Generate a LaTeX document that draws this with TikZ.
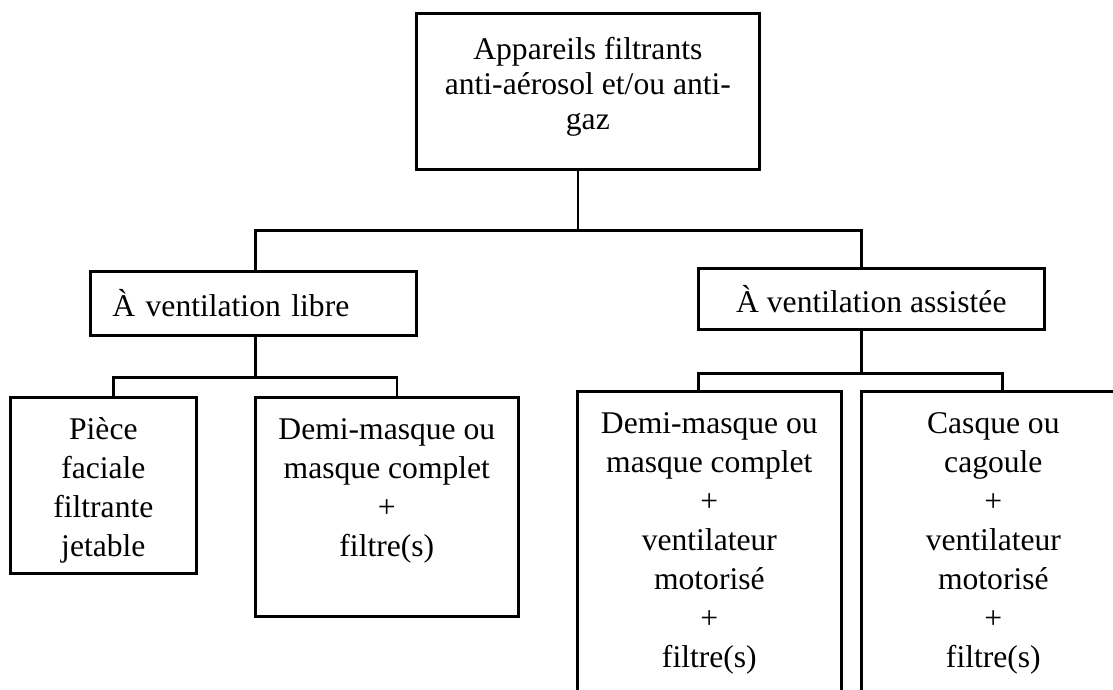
\documentclass[tikz,border=0pt]{standalone}
\usepackage{fontspec}
\setmainfont{Liberation Serif}

% text of a tall box: starts at the top, centred
\newcommand{\leafbox}[3]{\parbox[c][#2][t]{#1}{\centering\rule{0pt}{42pt}#3}}

\begin{document}
\begin{tikzpicture}[
    x=1pt, y=-1pt,
    every node/.style={font=\fontsize{31.6}{39}\selectfont},
    box/.style={draw, line width=2.7pt, inner sep=0pt, anchor=north west},
    link/.style={line width=2.6pt}
]
    \useasboundingbox (0,0) rectangle (1113,689);
    \clip (0,0) rectangle (1113,689);

    \node[box] (app) at (415,12)
        {\parbox[c][156pt][t]{343pt}{\centering\fontsize{31.6}{35}\selectfont
         \rule{0pt}{46pt}Appareils filtrants\\anti-aérosol et/ou anti-\\gaz}};

    \node[box, minimum width=326, minimum height=64, text width=282,
          inner xsep=22, align=left] (libre) at (89,270) {À ventilation libre};
    \node[box, minimum width=346, minimum height=61] (assist) at (697,267)
        {À ventilation assistée};

    \node[box] (piece) at (9,396)
        {\leafbox{186pt}{176pt}{Pièce\\faciale\\filtrante\\jetable}};
    \node[box] (demi) at (254,396)
        {\leafbox{263pt}{219pt}{Demi-masque ou\\masque complet\\+\\filtre(s)}};
    \node[box] (demiv) at (576,390)
        {\leafbox{264pt}{330pt}{Demi-masque ou\\masque complet\\+\\ventilateur\\motorisé\\+\\filtre(s)}};
    \node[box] (casque) at (860,390)
        {\leafbox{264pt}{330pt}{Casque ou\\cagoule\\+\\ventilateur\\motorisé\\+\\filtre(s)}};

    \draw[link] ([xshift=-10pt]app.south) -- ++(0,60) coordinate (j0);
    \draw[link] (j0) -| ([xshift=2pt]libre.north);
    \draw[link] (j0) -| ([xshift=-10pt]assist.north);

    \draw[link] ([xshift=2pt]libre.south) -- ++(0,41) coordinate (j1);
    \draw[link] (j1) -| ([xshift=10pt]piece.north);
    \draw[link] (j1) -| ([xshift=10pt]demi.north);

    \draw[link] ([xshift=-10pt]assist.south) -- ++(0,43) coordinate (j2);
    \draw[link] (j2) -| ([xshift=-11pt]demiv.north);
    \draw[link] (j2) -| ([xshift=9pt]casque.north);
\end{tikzpicture}
\end{document}
